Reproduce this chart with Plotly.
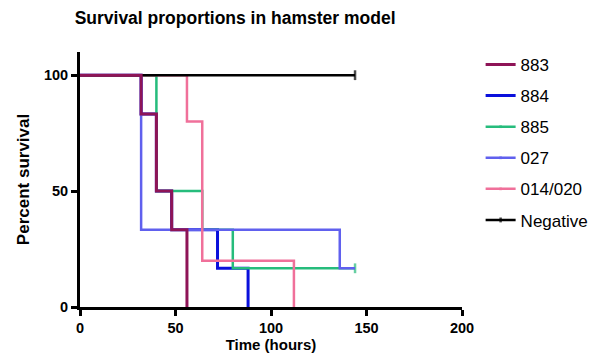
import plotly.graph_objects as go

# Data (time in hours, percent survival), step curves
names = ["883", "884", "885", "027", "014/020", "Negative"]
colors = ["#8E1457", "#0A10DC", "#26BC7C", "#6060EE", "#F0709A", "#000000"]
widths = [3, 3, 2.5, 2.5, 2.5, 2.5]

t_883 = [0, 32, 40, 48, 56]
s_883 = [100, 83.3, 50, 33.3, 0]
t_884 = [0, 32, 40, 48, 72, 88]
s_884 = [100, 83.3, 50, 33.3, 16.7, 0]
t_885 = [0, 40, 64, 80, 144]
s_885 = [100, 50, 33.3, 16.7, 16.7]
t_027 = [0, 32, 136, 144]
s_027 = [100, 33.3, 16.7, 16.7]
t_014 = [0, 56, 64, 112]
s_014 = [100, 80, 20, 0]
t_neg = [0, 144]
s_neg = [100, 100]

censored = [False, False, True, False, False, True]

FONT = "Liberation Sans, Arial, sans-serif"

fig = go.Figure()
draw = [(1, t_884, s_884), (2, t_885, s_885), (3, t_027, s_027),
        (4, t_014, s_014), (5, t_neg, s_neg), (0, t_883, s_883)]
for idx, t, s in draw:
    n = len(t)
    sizes = [0] * n
    if censored[idx]:
        sizes[-1] = 7
    fig.add_trace(go.Scatter(
        x=t, y=s, name=names[idx], mode="lines+markers",
        line=dict(color=colors[idx], width=widths[idx], shape="hv"),
        marker=dict(symbol="line-ns", size=sizes,
                    line=dict(color=colors[idx], width=2.5)),
        legendrank=idx + 1, legendgroup=names[idx],
    ))

fig.update_layout(
    width=605, height=355,
    margin=dict(l=80, r=142, t=52, b=48),
    paper_bgcolor="white", plot_bgcolor="white",
    font=dict(family=FONT, color="black"),
    title=dict(text="<b>Survival proportions in hamster model</b>",
               x=0.406, xref="paper", xanchor="center", y=0.95, yanchor="middle",
               font=dict(size=17.5)),
    legend=dict(x=1.046, y=1.02, xanchor="left", yanchor="top",
                font=dict(size=17), tracegroupgap=6,
                traceorder="grouped", maxheight=1),
    showlegend=True,
)
fig.update_xaxes(range=[0, 200], tickmode="array", tickvals=[0, 50, 100, 150, 200],
                 ticktext=["<b>0</b>", "<b>50</b>", "<b>100</b>", "<b>150</b>", "<b>200</b>"],
                 showline=True, linecolor="black", linewidth=3,
                 ticks="outside", ticklen=6, tickwidth=2.5, tickcolor="black",
                 showgrid=False, zeroline=False, automargin=False,
                 tickfont=dict(size=14.5),
                 title=dict(text="<b>Time (hours)</b>", font=dict(size=15), standoff=2))
fig.update_yaxes(range=[0, 110], tickmode="array", tickvals=[0, 50, 100],
                 ticktext=["<b>0</b>", "<b>50</b>", "<b>100</b>"],
                 showline=True, linecolor="black", linewidth=3,
                 ticks="outside", ticklen=6, tickwidth=2.5, tickcolor="black",
                 showgrid=False, zeroline=False, automargin=False,
                 tickfont=dict(size=14.5),
                 title=dict(text="<b>Percent survival</b>", font=dict(size=17), standoff=10))

fig.write_html("out.html", config={"displayModeBar": False},
               post_script="document.body.style.margin='0px';document.body.style.overflow='hidden';")
